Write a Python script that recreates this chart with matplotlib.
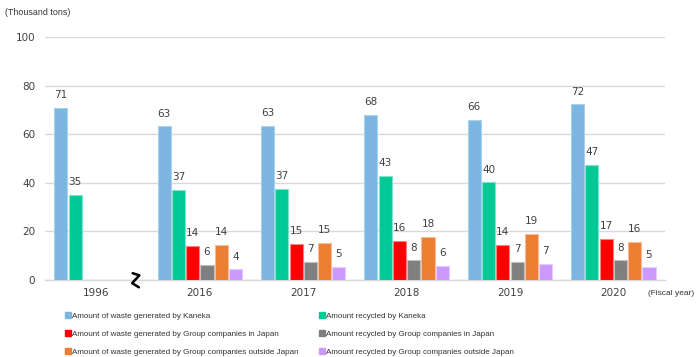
import matplotlib
matplotlib.use("Agg")
import matplotlib.pyplot as plt
from matplotlib.lines import Line2D
import numpy as np

# Fiscal years on the x axis.
years = ["1996", "2016", "2017", "2018", "2019", "2020"]

# Values in thousand tons (1996 only has Kaneka figures).
kaneka_waste = [70.7, 63.2, 63.3, 67.8, 66.0, 72.3]
kaneka_recycled = [35.1, 37.1, 37.4, 42.8, 40.2, 47.3]
group_japan_waste = [0, 14.0, 15.0, 16.0, 14.4, 16.9]
group_japan_recycled = [0, 6.3, 7.4, 8.1, 7.4, 8.1]
group_overseas_waste = [0, 14.3, 15.4, 17.7, 18.9, 15.8]
group_overseas_recycled = [0, 4.4, 5.4, 5.9, 6.6, 5.2]

series_names = [
    "Amount of waste generated by Kaneka",
    "Amount recycled by Kaneka",
    "Amount of waste generated by Group companies in Japan",
    "Amount recycled by Group companies in Japan",
    "Amount of waste generated by Group companies outside Japan",
    "Amount recycled by Group companies outside Japan",
]
series_values = [
    kaneka_waste,
    kaneka_recycled,
    group_japan_waste,
    group_japan_recycled,
    group_overseas_waste,
    group_overseas_recycled,
]
colors = ["#7cb6e0", "#00c996", "#ff0000", "#7f7f7f", "#ed7d31", "#cc99ff"]
edges = ["#a9d0ec", "#7fe4cb", "#ff8080", "#bfbfbf", "#f6be98", "#e6ccff"]

plt.rcParams["font.family"] = "DejaVu Sans"
narrow = "Liberation Sans"

fig = plt.figure(figsize=(7.0, 3.57), dpi=100)
ax = fig.add_axes([0.064, 0.2157, 0.886, 0.6806])

x = np.arange(len(years))
width = 0.138
for i, (name, values) in enumerate(zip(series_names, series_values)):
    offsets = x + (i - 2.5) * width
    ax.bar(offsets, values, width=width * 0.92, color=colors[i],
           edgecolor=edges[i], linewidth=0.8, label=name)
    for xo, v in zip(offsets, values):
        if v > 0:
            ax.text(xo, v + 3.2, f"{round(v):d}", ha="center", va="bottom",
                    fontsize=7.5, color="#404040")

ax.set_xlim(-0.5, len(years) - 0.5)
ax.set_ylim(0, 100)
ax.set_yticks([0, 20, 40, 60, 80, 100])
ax.set_xticks(x)
ax.set_xticklabels(years)
ax.tick_params(axis="both", length=0, labelsize=7.5, colors="#404040")
ax.tick_params(axis="x", pad=6)
ax.tick_params(axis="y", pad=7)
ax.grid(axis="y", color="#d9d9d9", linewidth=1)
ax.set_axisbelow(True)
for side in ["top", "right", "left"]:
    ax.spines[side].set_visible(False)
ax.spines["bottom"].set_color("#d9d9d9")
ax.spines["bottom"].set_linewidth(1)
ax.spines["bottom"].set_zorder(0)

# Axis break mark between 1996 and 2016.
bx = 0.38
ax.plot([bx - 0.03, bx + 0.035, bx - 0.035, bx + 0.03],
        [2.8, 1.9, -1.3, -3.0], color="black", linewidth=1.8,
        clip_on=False, solid_capstyle="round", zorder=5)

fig.text(0.007, 0.965, "(Thousand tons)", fontsize=6.4, color="#333333",
         ha="left", va="center", family=narrow)
fig.text(0.926, 0.178, "(Fiscal year)", fontsize=6.0, color="#333333",
         ha="left", va="center", family=narrow)

handles = [Line2D([], [], marker="s", linestyle="none", markersize=4.5,
                  markerfacecolor=c, markeredgecolor=c) for c in colors]
order = [0, 2, 4, 1, 3, 5]
fig.legend([handles[i] for i in order], [series_names[i] for i in order],
           ncol=2, loc="upper left", bbox_to_anchor=(0.088, 0.137),
           frameon=False, prop={"family": narrow, "size": 5.8},
           handlelength=0.6, handletextpad=0.2,
           labelspacing=1.3, columnspacing=2.6, borderpad=0,
           labelcolor="#333333")

fig.savefig("out.png", dpi=100)
